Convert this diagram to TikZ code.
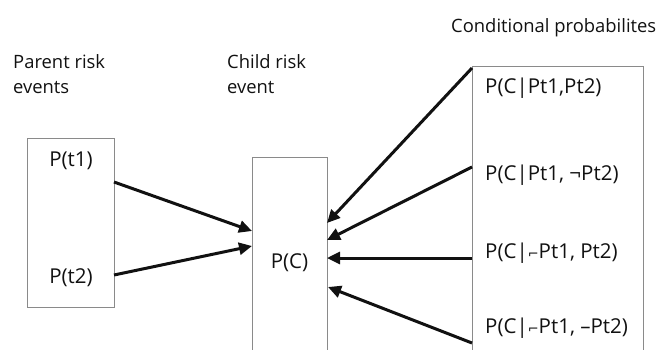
\documentclass[tikz,border=0pt]{standalone}
\usepackage{fontspec}
\setmainfont{Open Sans}
\newfontfamily\symfont{DejaVu Sans}
\usetikzlibrary{arrows.meta}
\definecolor{ink}{HTML}{111111}
\definecolor{frame}{HTML}{8A8A8A}
\begin{document}
\begin{tikzpicture}[x=1pt,y=-1pt,
  lbl/.style={font=\fontsize{18.4}{25}\selectfont, text=ink, inner sep=0pt, anchor=base west, align=left},
  prob/.style={font=\fontsize{20.5}{24}\selectfont, text=ink, inner sep=0pt},
  panel/.style={draw=frame, line width=0.9pt},
  link/.style={draw=ink, line width=3pt, -{Triangle[length=13pt,width=12pt]}}]
\useasboundingbox (0,0) rectangle (658,349);
\clip (0,0) rectangle (658,349);

% column headings (anchored on the baseline of the last line)
\node[lbl] (hparent) at (13,93) {Parent risk\\events};
\node[lbl] (hchild) at (227,93) {Child risk\\event};
\node[lbl] (hcond) at (451,32) {Conditional probabilites};

% panels
\draw[panel] (27,138) rectangle (114,307);
\draw[panel] (252,157) rectangle (327,365);
\draw[panel] (472,66) rectangle (643,365);

% parent events
\node[prob, anchor=base] (t1) at (71,166) {P(t1)};
\node[prob, anchor=base] (t2) at (71,283) {P(t2)};

% child event
\node[prob, anchor=base] (c) at (289.5,268) {P(C)};

% conditional probability table
\node[prob, anchor=base west] (p1) at (485,93) {P(C|Pt1,Pt2)};
\node[prob, anchor=base west] (p2) at (485,180) {P(C|Pt1, ¬Pt2)};
\node[prob, anchor=base west] (p3) at (485,258) {P(C|{\symfont\fontsize{13}{13}\selectfont ⌐}Pt1, Pt2)};
\node[prob, anchor=base west] (p4) at (485,333) {P(C|{\symfont\fontsize{13}{13}\selectfont ⌐}Pt1, –Pt2)};

% connector end points on the panel edges
\coordinate (t1out) at (114,182);
\coordinate (t2out) at (114,275);
\coordinate (cin1) at (252,231);
\coordinate (cin2) at (252,246);
\coordinate (p1out) at (472,68);
\coordinate (p2out) at (472,167);
\coordinate (p3out) at (472,258);
\coordinate (p4out) at (472,343);
\coordinate (cin3) at (327,223);
\coordinate (cin4) at (327,240);
\coordinate (cin5) at (327,258);
\coordinate (cin6) at (328,287);

% influence arrows
\draw[link] (t1out) -- (cin1);
\draw[link] (t2out) -- (cin2);
\draw[link] (p1out) -- (cin3);
\draw[link] (p2out) -- (cin4);
\draw[link] (p3out) -- (cin5);
\draw[link] (p4out) -- (cin6);
\end{tikzpicture}
\end{document}
